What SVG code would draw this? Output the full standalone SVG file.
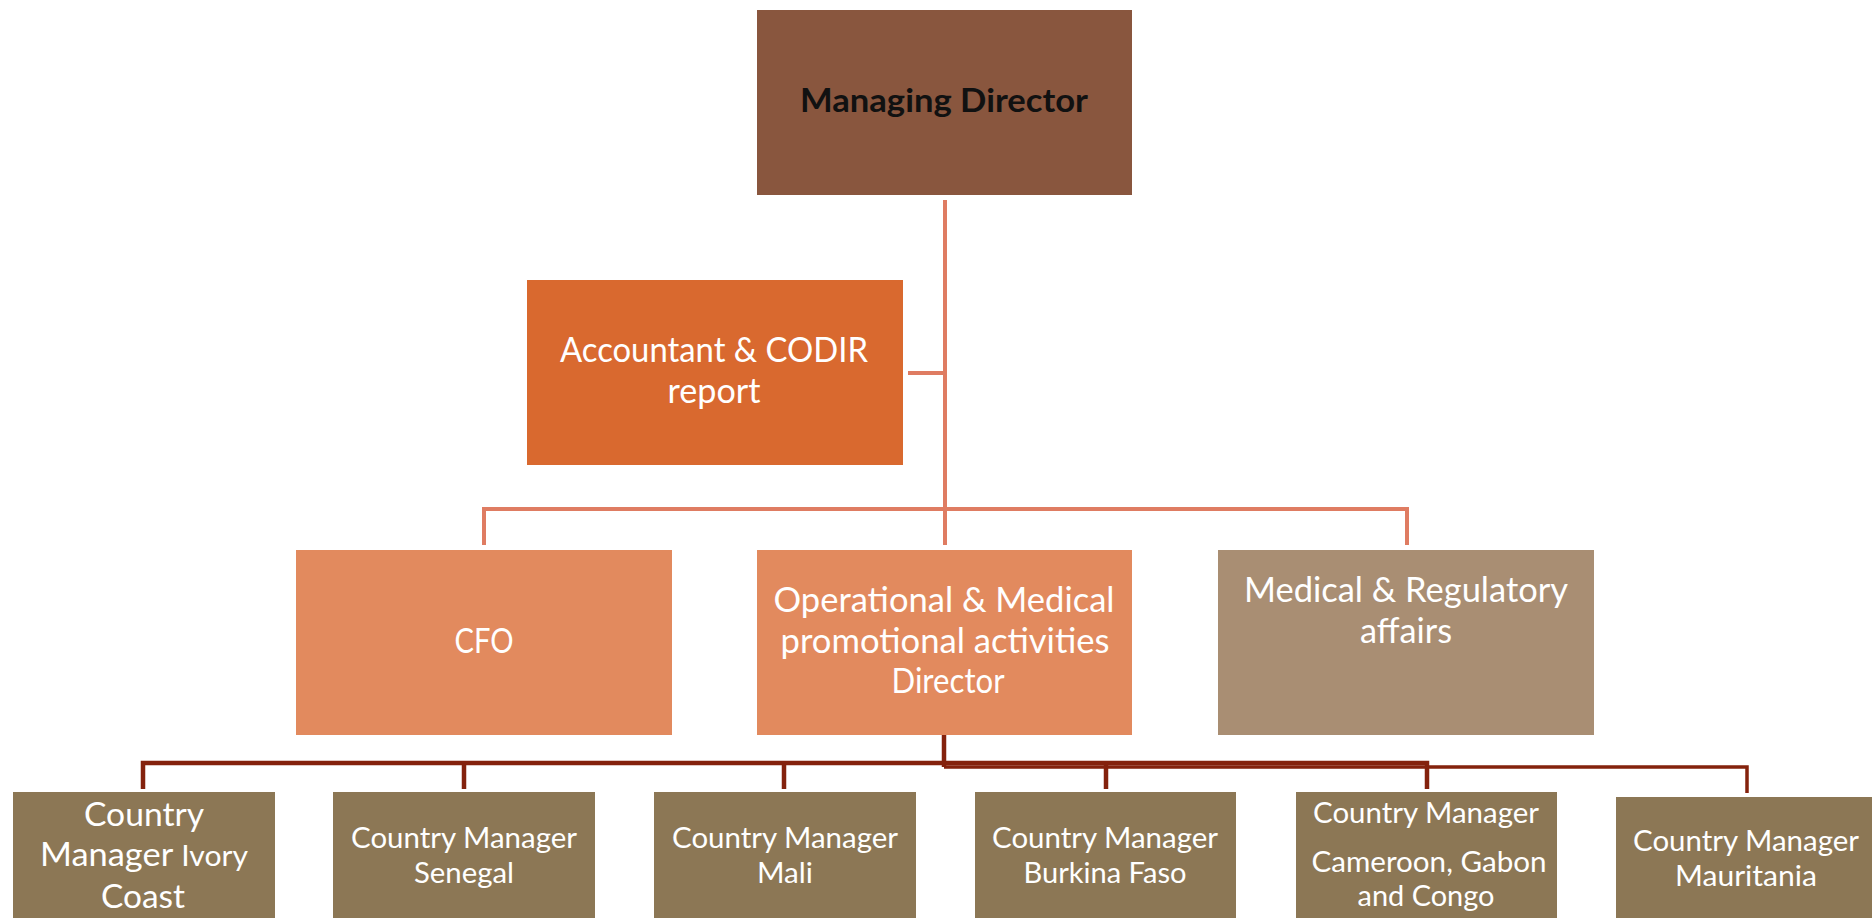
<svg xmlns="http://www.w3.org/2000/svg" width="1872" height="918" viewBox="0 0 1872 918">
<style>
text{font-family:Lato,"Open Sans","Liberation Sans",sans-serif;text-anchor:middle;fill:#fff}
.t1{font-size:34px}
.t2{font-size:29.5px}
.md{font-size:33px;font-weight:bold;fill:#111}
.up{fill:none;stroke:#DF7C62;stroke-width:4}
.dn{fill:none;stroke:#84220D;stroke-width:4.5}
</style>
<rect width="1872" height="918" fill="#fff"/>
<g id="connectors">
<path class="up" d="M945 200V545M908 373H945M484 545V509H1407V545"/>
<path class="dn" d="M944 735V767M143 789V763H1427V789M464 763V789M784 763V789M1106 763V789"/>
<path class="dn" style="stroke-width:3.5" d="M944 767H1747V793"/>
</g>
<g id="md"><rect x="757" y="10" width="375" height="185" fill="#89563E"/>
<text class="md" x="944" y="112" textLength="288" lengthAdjust="spacingAndGlyphs">Managing Director</text></g>
<g id="accountant"><rect x="527" y="280" width="376" height="185" fill="#D9692F"/>
<text class="t1" x="714" y="362" textLength="308" lengthAdjust="spacingAndGlyphs">Accountant &amp; CODIR</text>
<text class="t1" x="714" y="403" textLength="93" lengthAdjust="spacingAndGlyphs">report</text></g>
<g id="cfo"><rect x="296" y="550" width="376" height="185" fill="#E28A5E"/>
<text class="t1" x="484" y="653" textLength="59" lengthAdjust="spacingAndGlyphs">CFO</text></g>
<g id="ops"><rect x="757" y="550" width="375" height="185" fill="#E28A5E"/>
<text class="t1" x="944" y="612" textLength="341" lengthAdjust="spacingAndGlyphs">Operational &amp; Medical</text>
<text class="t1" x="945" y="653" textLength="329" lengthAdjust="spacingAndGlyphs">promotional activities</text>
<text class="t1" x="948" y="693" textLength="113" lengthAdjust="spacingAndGlyphs">Director</text></g>
<g id="medical"><rect x="1218" y="550" width="376" height="185" fill="#A98E73"/>
<text class="t1" x="1406" y="602" textLength="324" lengthAdjust="spacingAndGlyphs">Medical &amp; Regulatory</text>
<text class="t1" x="1406" y="643" textLength="92" lengthAdjust="spacingAndGlyphs">affairs</text></g>
<g id="ivory"><rect x="13" y="792" width="262" height="130" fill="#8C7755"/>
<text x="144" y="826" style="font-size:32px" textLength="120" lengthAdjust="spacingAndGlyphs">Country</text>
<text x="144" y="866" style="font-size:32px" textLength="208" lengthAdjust="spacingAndGlyphs">Manager <tspan style="font-size:28px">Ivory</tspan></text>
<text x="143" y="908" style="font-size:32px" textLength="84" lengthAdjust="spacingAndGlyphs">Coast</text></g>
<g id="senegal"><rect x="333" y="792" width="262" height="130" fill="#8C7755"/>
<text class="t2" x="464" y="848" textLength="226" lengthAdjust="spacingAndGlyphs">Country Manager</text>
<text class="t2" x="464" y="883" textLength="100" lengthAdjust="spacingAndGlyphs">Senegal</text></g>
<g id="mali"><rect x="654" y="792" width="262" height="130" fill="#8C7755"/>
<text class="t2" x="785" y="848" textLength="226" lengthAdjust="spacingAndGlyphs">Country Manager</text>
<text class="t2" x="785" y="883" textLength="56" lengthAdjust="spacingAndGlyphs">Mali</text></g>
<g id="burkina"><rect x="975" y="792" width="261" height="130" fill="#8C7755"/>
<text class="t2" x="1105" y="848" textLength="226" lengthAdjust="spacingAndGlyphs">Country Manager</text>
<text class="t2" x="1105" y="883" textLength="163" lengthAdjust="spacingAndGlyphs">Burkina Faso</text></g>
<g id="cameroon"><rect x="1296" y="792" width="261" height="130" fill="#8C7755"/>
<text class="t2" x="1426" y="823" textLength="226" lengthAdjust="spacingAndGlyphs">Country Manager</text>
<text class="t2" x="1429" y="872" textLength="235" lengthAdjust="spacingAndGlyphs">Cameroon, Gabon</text>
<text class="t2" x="1426" y="906" textLength="137" lengthAdjust="spacingAndGlyphs">and Congo</text></g>
<g id="mauritania"><rect x="1616" y="797" width="262" height="125" fill="#8C7755"/>
<text class="t2" x="1746" y="851" textLength="226" lengthAdjust="spacingAndGlyphs">Country Manager</text>
<text class="t2" x="1746" y="886" textLength="142" lengthAdjust="spacingAndGlyphs">Mauritania</text></g>
</svg>
